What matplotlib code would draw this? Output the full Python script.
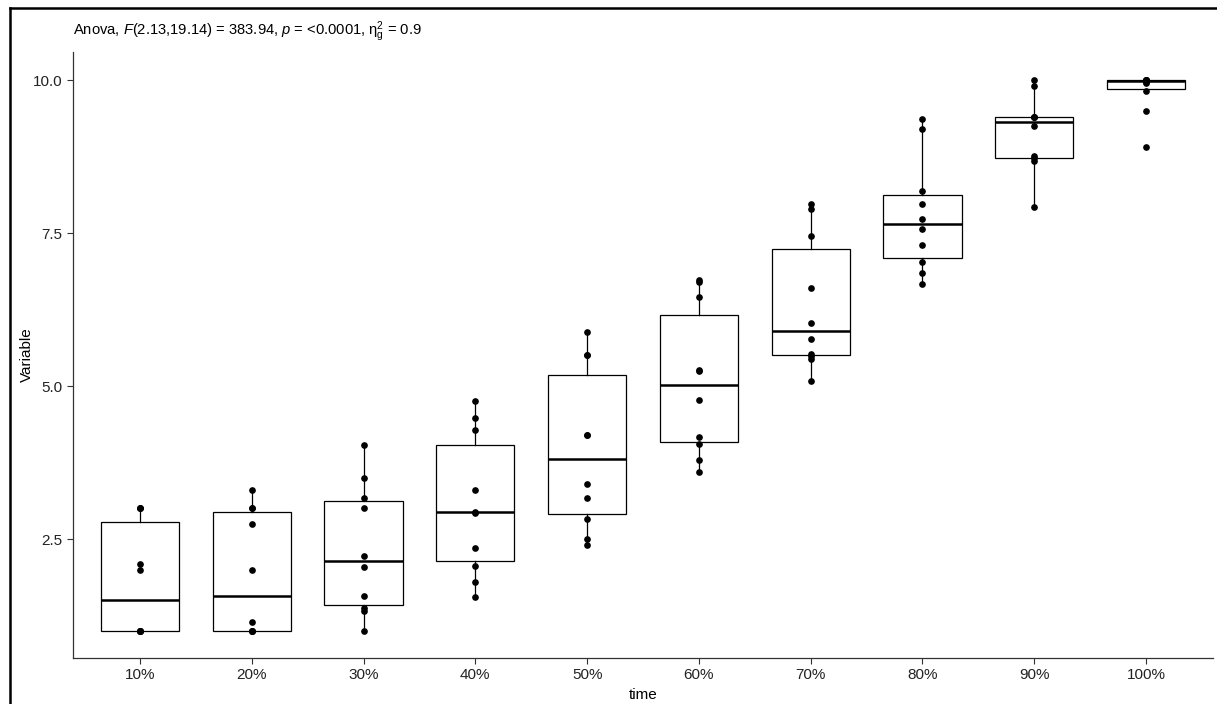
import numpy as np
import matplotlib
matplotlib.use("Agg")
import matplotlib.pyplot as plt
from matplotlib.lines import Line2D

plt.rcParams['font.family'] = ['Liberation Sans', 'DejaVu Sans']
plt.rcParams['mathtext.fontset'] = 'custom'
plt.rcParams['mathtext.rm'] = 'Liberation Sans'
plt.rcParams['mathtext.it'] = 'Liberation Sans:italic'

# data
times = ['10%', '20%', '30%', '40%', '50%', '60%', '70%', '80%', '90%', '100%']
t10 = [1, 1, 1, 1, 1, 2.0, 2.1, 3.0, 3.0, 3.0]
t20 = [1, 1, 1, 1, 1.15, 2.0, 2.75, 3.0, 3.0, 3.3]
t30 = [1.0, 1.33, 1.37, 1.57, 2.05, 2.23, 3.0, 3.17, 3.5, 4.03]
t40 = [1.55, 1.80, 2.06, 2.36, 2.93, 2.95, 3.30, 4.28, 4.48, 4.75]
t50 = [2.41, 2.5, 2.82, 3.17, 3.4, 4.2, 4.2, 5.5, 5.5, 5.88]
t60 = [3.59, 3.79, 4.06, 4.16, 4.78, 5.25, 5.27, 6.46, 6.70, 6.74]
t70 = [5.08, 5.45, 5.49, 5.53, 5.77, 6.03, 6.60, 7.46, 7.90, 7.97]
t80 = [6.67, 6.85, 7.02, 7.30, 7.56, 7.73, 7.97, 8.18, 9.20, 9.36]
t90 = [7.92, 8.68, 8.72, 8.76, 9.25, 9.39, 9.39, 9.40, 9.91, 10.0]
t100 = [8.9, 9.5, 9.82, 9.95, 9.97, 10, 10, 10, 10, 10]
groups = [t10, t20, t30, t40, t50, t60, t70, t80, t90, t100]

fig = plt.figure(figsize=(12.17, 7.04), dpi=100)
ax = fig.add_axes([0.06, 0.0653, 0.9367, 0.8607])

pos = np.arange(len(times))
ax.boxplot(groups, positions=pos, widths=0.7, showfliers=False,
           patch_artist=True, whis=1.5,
           boxprops=dict(facecolor='white', edgecolor='black', linewidth=0.9),
           medianprops=dict(color='black', linewidth=1.8),
           whiskerprops=dict(color='black', linewidth=0.9),
           capprops=dict(linewidth=0), zorder=2)

for i, g in enumerate(groups):
    ax.plot(np.full(len(g), pos[i]), g, 'o', color='black', ms=3.8, zorder=3)

ax.set_xlim(-0.6, 9.6)
ax.set_ylim(0.556, 10.457)
ax.set_xticks(pos)
ax.set_xticklabels(times)
ax.set_yticks([2.5, 5.0, 7.5, 10.0])
ax.set_yticklabels(['2.5', '5.0', '7.5', '10.0'])
ax.tick_params(labelsize=11, length=4, width=0.8, color='#333333', labelcolor='#222222')
for s in ['top', 'right']:
    ax.spines[s].set_visible(False)
for s in ['left', 'bottom']:
    ax.spines[s].set_linewidth(0.9)
    ax.spines[s].set_color('#333333')
ax.set_xlabel('time', fontsize=11, labelpad=4)
ax.set_ylabel('Variable', fontsize=11)
ax.yaxis.set_label_coords(-0.034, 0.5)

fig.text(0.06, 0.955, r'Anova, $\mathit{F}$(2.13,19.14) = 383.94, $\mathit{p}$ = <0.0001, $\mathrm{η}_{\mathrm{g}}^{2}$ = 0.9',
         fontsize=10.6, ha='left', va='center')

# the black frame round the screenshot
fig.add_artist(Line2D([0.0085, 0.0085], [0, 0.989], transform=fig.transFigure, color='black', lw=1.8))
fig.add_artist(Line2D([0.0085, 1.0], [0.989, 0.989], transform=fig.transFigure, color='black', lw=1.8))

fig.savefig('out.png', dpi=100)
